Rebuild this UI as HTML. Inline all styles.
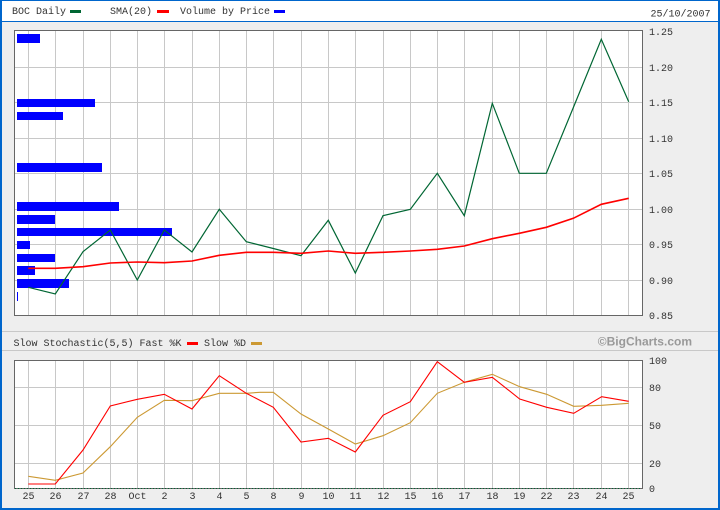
<!DOCTYPE html>
<html><head><meta charset="utf-8"><style>
html,body{margin:0;padding:0;background:#eeeeee;}
svg{display:block;}
.t{font-family:"Liberation Mono","DejaVu Sans Mono",monospace;font-size:10px;fill:#333;}
</style></head><body>
<svg width="720" height="510" viewBox="0 0 720 510" xmlns="http://www.w3.org/2000/svg">
<rect x="0" y="0" width="720" height="510" fill="#eeeeee"/>
<rect x="0" y="0" width="720" height="21" fill="#ffffff"/>
<g shape-rendering="crispEdges">
<rect x="0" y="21" width="720" height="1" fill="#0066cc"/>
<rect x="0" y="0" width="720" height="1" fill="#0066cc"/>
<rect x="0" y="0" width="2" height="510" fill="#0066cc"/>
<rect x="718" y="0" width="2" height="510" fill="#0066cc"/>
<rect x="0" y="508" width="720" height="2" fill="#0066cc"/>
<rect x="2" y="331" width="716" height="1" fill="#c8c8c8"/>
<rect x="2" y="350" width="716" height="1" fill="#c8c8c8"/>
<rect x="14" y="30" width="628" height="285" fill="#ffffff"/>
<rect x="14" y="360" width="628" height="128" fill="#ffffff"/>
<g stroke="#c8c8c8" stroke-width="1">
<path d="M28.5 30V315M55.5 30V315M83.5 30V315M110.5 30V315M137.5 30V315M164.5 30V315M192.5 30V315M219.5 30V315M246.5 30V315M273.5 30V315M301.5 30V315M328.5 30V315M355.5 30V315M383.5 30V315M410.5 30V315M437.5 30V315M464.5 30V315M492.5 30V315M519.5 30V315M546.5 30V315M573.5 30V315M601.5 30V315M628.5 30V315"/>
<path d="M14 67.5H642M14 102.5H642M14 138.5H642M14 173.5H642M14 209.5H642M14 244.5H642M14 280.5H642"/>
<path d="M28.5 360V488M55.5 360V488M83.5 360V488M110.5 360V488M137.5 360V488M164.5 360V488M192.5 360V488M219.5 360V488M246.5 360V488M273.5 360V488M301.5 360V488M328.5 360V488M355.5 360V488M383.5 360V488M410.5 360V488M437.5 360V488M464.5 360V488M492.5 360V488M519.5 360V488M546.5 360V488M573.5 360V488M601.5 360V488M628.5 360V488"/>
<path d="M14 387.5H642M14 425.5H642M14 463.5H642"/>
</g>
<g fill="#0000ff">
<rect x="17" y="34" width="23" height="9"/>
<rect x="17" y="99" width="78" height="8"/>
<rect x="17" y="112" width="46" height="8"/>
<rect x="17" y="163" width="85" height="9"/>
<rect x="17" y="202" width="102" height="9"/>
<rect x="17" y="215" width="38" height="9"/>
<rect x="17" y="228" width="155" height="8"/>
<rect x="17" y="241" width="13" height="8"/>
<rect x="17" y="254" width="38" height="8"/>
<rect x="17" y="266" width="18" height="9"/>
<rect x="17" y="279" width="52" height="9"/>
<rect x="17" y="292" width="1" height="9"/>
</g>
<rect x="14.5" y="30.5" width="628" height="285" fill="none" stroke="#666666"/>
<rect x="14.5" y="360.5" width="628" height="128" fill="none" stroke="#666666"/>
<path d="M15 488.5H642" stroke="#006633" stroke-dasharray="1,2"/>
<!-- legend swatches -->
<rect x="70" y="10" width="11" height="3" fill="#006633"/>
<rect x="157" y="10" width="12" height="3" fill="#ff0000"/>
<rect x="274" y="10" width="11" height="3" fill="#0000ff"/>
<rect x="187" y="342" width="11" height="3" fill="#ff0000"/>
<rect x="251" y="342" width="11" height="3" fill="#cc9933"/>
</g>
<!-- price -->
<polyline fill="none" stroke="#006633" stroke-width="1.2" points="28.3,287.3 55.3,294 83,251.7 110.3,230 137.3,280 164.3,230 192,252 219.3,209.3 246.3,241.7 273.3,248.5 301,255.7 328.3,220.3 355.3,273 383,215.7 410.3,209.3 437.3,173.3 464.3,215.7 492.3,103.3 519.3,173.3 546.3,173.3 573.3,107.6 601.3,39.3 628.7,101.7"/>
<!-- SMA -->
<polyline fill="none" stroke="#ff0000" stroke-width="1.6" points="28.3,268.3 55.3,268.3 83,266.7 110.3,263 137.3,262 164.3,262.7 192,261 219.3,255.3 246.3,252.3 273.3,252.3 301,253.3 328.3,251 355.3,253.3 383,252.3 410.3,251 437.3,249.3 464.3,246 492.3,238.7 519.3,233.3 546.3,227.3 573.3,218.3 601.3,204.3 628.7,198.3"/>
<!-- %D -->
<polyline fill="none" stroke="#cc9933" stroke-width="1.1" points="28.3,476.3 55.3,480.3 83,473 110.3,446.7 137.3,417.3 164.3,400.3 192,400.7 219.3,393.3 246.3,393.3 260,392.3 273.3,392.3 301,414 328.3,429 355.3,444 383,435.7 410.3,422.7 437.3,393.3 464.3,382.3 492.3,374.3 519.7,386.7 546.7,394.3 573.7,406.3 601.7,405.3 628.7,403.3"/>
<!-- %K -->
<polyline fill="none" stroke="#ff0000" stroke-width="1.1" points="28.3,484 55.3,484 83,450 110.3,406 137.3,399.3 164.3,394.3 192,409 219.3,375.7 246.3,393.3 273.3,407.3 301,442 328.3,438.3 355.3,452 383,415.3 410.3,401.7 437.3,361.7 464.3,382.3 492.3,377.3 519.7,399 546.7,407.3 573.7,413.3 601.7,396.7 628.7,401.3"/>
<!-- header text -->
<text class="t" x="12" y="14">BOC Daily</text>
<text class="t" x="110" y="14">SMA(20)</text>
<text class="t" x="180" y="14">Volume by Price</text>
<text class="t" x="650.5" y="16.5">25/10/2007</text>
<text class="t" x="13.5" y="346">Slow Stochastic(5,5) Fast %K</text>
<text class="t" x="204" y="346">Slow %D</text>
<text x="692" y="345.7" text-anchor="end" style="font-family:'Liberation Sans','DejaVu Sans',sans-serif;font-size:12px;font-weight:bold;fill:#999999;">©BigCharts.com</text>
<!-- y labels top -->
<g class="t">
<text class="t" x="649" y="35">1.25</text>
<text class="t" x="649" y="71">1.20</text>
<text class="t" x="649" y="106">1.15</text>
<text class="t" x="649" y="142">1.10</text>
<text class="t" x="649" y="177">1.05</text>
<text class="t" x="649" y="213">1.00</text>
<text class="t" x="649" y="248">0.95</text>
<text class="t" x="649" y="284">0.90</text>
<text class="t" x="649" y="319">0.85</text>
<text class="t" x="649" y="364">100</text>
<text class="t" x="649" y="391">80</text>
<text class="t" x="649" y="429">50</text>
<text class="t" x="649" y="467">20</text>
<text class="t" x="649" y="492">0</text>
</g>
<g class="t" text-anchor="middle">
<text class="t" x="28.5" y="499">25</text>
<text class="t" x="55.5" y="499">26</text>
<text class="t" x="83.5" y="499">27</text>
<text class="t" x="110.5" y="499">28</text>
<text class="t" x="137.5" y="499">Oct</text>
<text class="t" x="164.5" y="499">2</text>
<text class="t" x="192.5" y="499">3</text>
<text class="t" x="219.5" y="499">4</text>
<text class="t" x="246.5" y="499">5</text>
<text class="t" x="273.5" y="499">8</text>
<text class="t" x="301.5" y="499">9</text>
<text class="t" x="328.5" y="499">10</text>
<text class="t" x="355.5" y="499">11</text>
<text class="t" x="383.5" y="499">12</text>
<text class="t" x="410.5" y="499">15</text>
<text class="t" x="437.5" y="499">16</text>
<text class="t" x="464.5" y="499">17</text>
<text class="t" x="492.5" y="499">18</text>
<text class="t" x="519.5" y="499">19</text>
<text class="t" x="546.5" y="499">22</text>
<text class="t" x="573.5" y="499">23</text>
<text class="t" x="601.5" y="499">24</text>
<text class="t" x="628.5" y="499">25</text>
</g>
</svg>
</body></html>
